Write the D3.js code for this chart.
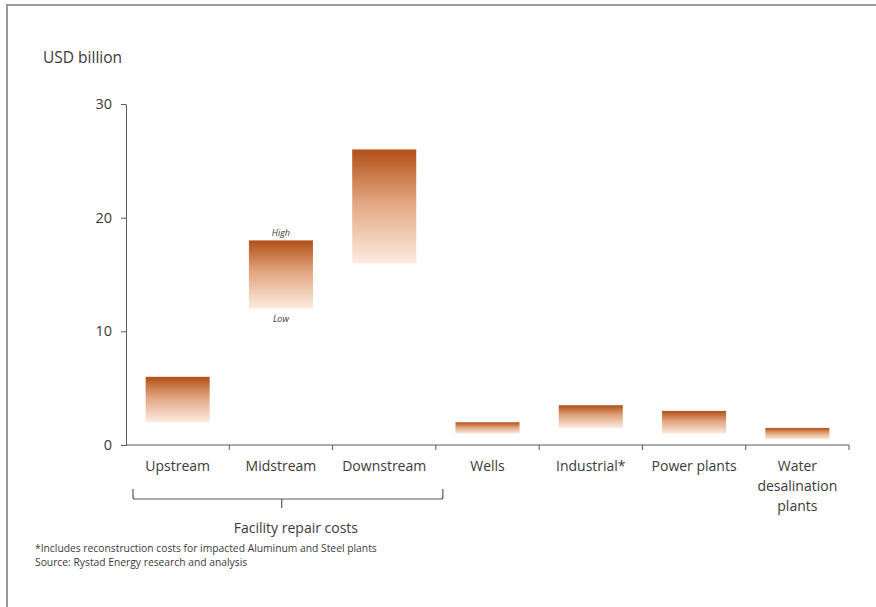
<!DOCTYPE html>
<html>
<head>
<meta charset="utf-8">
<script src="https://cdn.jsdelivr.net/npm/d3@7"></script>
<style>
  body { margin: 0; background: #fff; }
  svg text { font-family: "Open Sans", "Noto Sans", sans-serif; fill: #3a3a3a; }
</style>
</head>
<body>
<div id="chart"></div>
<script>
// chart data
const categories = [
    ["Upstream"], ["Midstream"], ["Downstream"], ["Wells"],
    ["Industrial*"], ["Power plants"], ["Water", "desalination", "plants"]
];
const lowValues  = [2, 12, 16, 1, 1.5, 1, 0.5];
const highValues = [6, 18, 26, 2, 3.5, 3, 1.5];
const yTicks = [0, 10, 20, 30];
const groupLabel = "Facility repair costs";
const groupedCats = [0, 2]; // first and last index under the bracket
const footnotes = [
    "*Includes reconstruction costs for impacted Aluminum and Steel plants",
    "Source: Rystad Energy research and analysis"
];

const width = 876, height = 607;
const margin = {top: 104, right: 27, bottom: 162, left: 126};
const innerW = width - margin.left - margin.right;
const innerH = height - margin.top - margin.bottom;

const svg = d3.select("#chart").append("svg")
    .attr("width", width)
    .attr("height", height);

// frame
svg.append("path")
    .attr("d", `M7,${height} V5 H${width}`)
    .attr("fill", "none")
    .attr("stroke", "#9a9a9a")
    .attr("stroke-width", 2);

const grad = svg.append("defs").append("linearGradient")
    .attr("id", "barGrad")
    .attr("x1", 0).attr("y1", 0).attr("x2", 0).attr("y2", 1);
grad.append("stop").attr("offset", "0%").attr("stop-color", "#b24f16");
grad.append("stop").attr("offset", "45%").attr("stop-color", "#e1a47e");
grad.append("stop").attr("offset", "100%").attr("stop-color", "#fdebe0");

const chart = svg.append("g")
    .attr("transform", `translate(${margin.left},${margin.top})`);

const xScale = d3.scaleBand()
    .domain(d3.range(categories.length))
    .range([0, innerW])
    .paddingInner(0)
    .paddingOuter(0);

const yScale = d3.scaleLinear()
    .domain([0, 30])
    .range([innerH, 0]);

const barW = xScale.bandwidth() * 0.62;

chart.selectAll(".bar")
    .data(categories)
    .enter().append("rect")
    .attr("class", "bar")
    .attr("x", (d, i) => xScale(i) + (xScale.bandwidth() - barW) / 2)
    .attr("y", (d, i) => yScale(highValues[i]))
    .attr("width", barW)
    .attr("height", (d, i) => yScale(lowValues[i]) - yScale(highValues[i]))
    .attr("fill", "url(#barGrad)");

// High / Low annotation on the midstream bar
const mid = 1;
chart.append("text")
    .attr("x", xScale(mid) + xScale.bandwidth() / 2)
    .attr("y", yScale(highValues[mid]) - 4)
    .attr("text-anchor", "middle")
    .attr("font-size", 9)
    .attr("font-style", "italic")
    .text("High");
chart.append("text")
    .attr("x", xScale(mid) + xScale.bandwidth() / 2)
    .attr("y", yScale(lowValues[mid]) + 13)
    .attr("text-anchor", "middle")
    .attr("font-size", 9)
    .attr("font-style", "italic")
    .text("Low");

// y axis
const yAxis = d3.axisLeft(yScale)
    .tickValues(yTicks)
    .tickSize(5)
    .tickSizeOuter(0)
    .tickPadding(9);
const yG = chart.append("g").attr("class", "y axis").call(yAxis);
yG.selectAll("path, line").attr("stroke", "#595959");
yG.selectAll("text").attr("font-size", 14.5).attr("fill", "#3a3a3a")
    .style("font-family", '"Open Sans", sans-serif');

// x axis: ticks on category boundaries
const xG = chart.append("g")
    .attr("class", "x axis")
    .attr("transform", `translate(0,${innerH})`);
xG.append("line")
    .attr("x1", 0).attr("x2", innerW)
    .attr("stroke", "#595959");
xG.selectAll(".tick")
    .data(d3.range(1, categories.length + 1))
    .enter().append("line")
    .attr("class", "tick")
    .attr("x1", d => d === categories.length ? innerW : xScale(d))
    .attr("x2", d => d === categories.length ? innerW : xScale(d))
    .attr("y1", 0).attr("y2", 5)
    .attr("stroke", "#595959");

xG.selectAll(".cat")
    .data(categories)
    .enter().append("text")
    .attr("class", "cat")
    .attr("x", (d, i) => xScale(i) + xScale.bandwidth() / 2)
    .attr("y", 26)
    .attr("text-anchor", "middle")
    .attr("font-size", 14)
    .each(function(lines) {
        d3.select(this).selectAll("tspan")
            .data(lines)
            .enter().append("tspan")
            .attr("x", d3.select(this).attr("x"))
            .attr("dy", (l, j) => j === 0 ? 0 : 20)
            .text(l => l);
    });

// bracket under the facility categories
const bx0 = xScale(groupedCats[0]) + 7;
const bx1 = xScale(groupedCats[1]) + xScale.bandwidth() + 7;
const bxm = bx0 + (bx1 - bx0) * 0.48;
const by0 = innerH + 44, by1 = innerH + 54;
chart.append("path")
    .attr("d", `M${bx0},${by0} V${by1 - 2} Q${bx0},${by1} ${bx0 + 2},${by1} H${bx1 - 2} Q${bx1},${by1} ${bx1},${by1 - 2} V${by0} M${bxm},${by1} V${by1 + 9}`)
    .attr("fill", "none")
    .attr("stroke", "#595959")
    .attr("stroke-width", 1.2);
chart.append("text")
    .attr("x", (bx0 + bx1) / 2 + 8)
    .attr("y", innerH + 88)
    .attr("text-anchor", "middle")
    .attr("font-size", 14)
    .text(groupLabel);

// title and notes
svg.append("text")
    .attr("x", 43)
    .attr("y", 63)
    .attr("font-size", 15.5)
    .text("USD billion");

svg.selectAll(".note")
    .data(footnotes)
    .enter().append("text")
    .attr("class", "note")
    .attr("x", 35)
    .attr("y", (d, i) => 552 + i * 14)
    .attr("font-size", 10.3)
    .attr("fill", "#555")
    .text(d => d);
</script>
</body>
</html>
